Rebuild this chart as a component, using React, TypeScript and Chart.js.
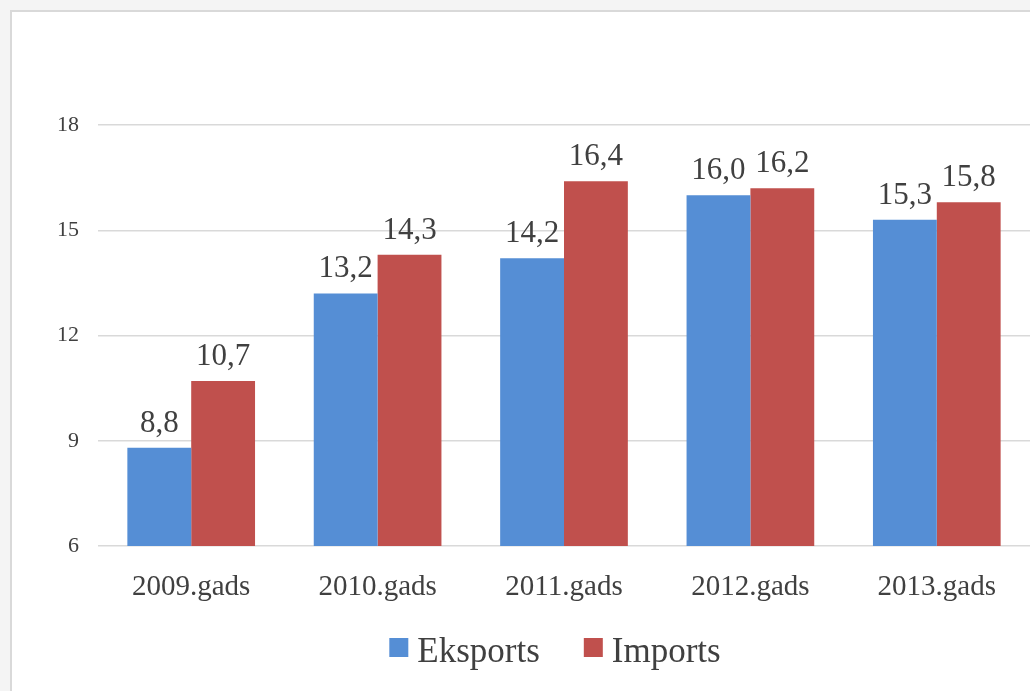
import React, { useEffect, useRef } from "react";
import { Chart, registerables } from "chart.js";

Chart.register(...registerables);

const categories = ["2009.gads", "2010.gads", "2011.gads", "2012.gads", "2013.gads"];
const eksports = [8.8, 13.2, 14.2, 16.0, 15.3];
const imports = [10.7, 14.3, 16.4, 16.2, 15.8];
const seriesNames = ["Eksports", "Imports"];
const seriesColors = ["#558ED5", "#C0504D"];
const yTicks = [6, 9, 12, 15, 18];

const FONT = "'Liberation Serif', 'Times New Roman', serif";
const TEXT = "#404040";

const dataLabels = {
  id: "dataLabels",
  afterDatasetsDraw(chart: any) {
    const ctx = chart.ctx;
    ctx.save();
    ctx.font = `31px ${FONT}`;
    ctx.fillStyle = TEXT;
    ctx.textAlign = "center";
    ctx.textBaseline = "alphabetic";
    chart.data.datasets.forEach((ds: any, i: number) => {
      const meta = chart.getDatasetMeta(i);
      meta.data.forEach((el: any, j: number) => {
        const v = ds.data[j] as number;
        ctx.fillText(v.toFixed(1).replace(".", ","), el.x, el.y - 16);
      });
    });
    ctx.restore();
  },
};

const bottomLegend = {
  id: "bottomLegend",
  afterDraw(chart: any) {
    const ctx = chart.ctx;
    const area = chart.chartArea;
    const box = 19;
    const gapText = 9;
    const gapItem = 44;
    ctx.save();
    ctx.font = `35px ${FONT}`;
    const items = chart.data.datasets.map((ds: any) => ({
      text: ds.label as string,
      color: ds.backgroundColor as string,
      w: ctx.measureText(ds.label).width,
    }));
    const total = items.reduce((a: number, it: any) => a + box + gapText + it.w, 0) + gapItem * (items.length - 1);
    const cx = (area.left + area.right) / 2 - 9;
    let x = cx - total / 2;
    const boxTop = area.bottom + 92;
    const baseline = area.bottom + 116;
    ctx.textAlign = "left";
    ctx.textBaseline = "alphabetic";
    items.forEach((it: any) => {
      ctx.fillStyle = it.color;
      ctx.fillRect(x, boxTop, box, box);
      ctx.fillStyle = TEXT;
      ctx.fillText(it.text, x + box + gapText, baseline);
      x += box + gapText + it.w + gapItem;
    });
    ctx.restore();
  },
};

export default function App() {
  const ref = useRef<HTMLCanvasElement>(null);
  useEffect(() => {
    if (!ref.current) return;
    const chart = new Chart(ref.current, {
      type: "bar",
      data: {
        labels: categories,
        datasets: [
          { label: seriesNames[0], data: eksports, backgroundColor: seriesColors[0], borderWidth: 0 },
          { label: seriesNames[1], data: imports, backgroundColor: seriesColors[1], borderWidth: 0 },
        ],
      },
      options: {
        responsive: false,
        animation: false,
        layout: { padding: { top: 125, right: 0, bottom: 70, left: 0 } },
        datasets: { bar: { categoryPercentage: 0.685, barPercentage: 1 } },
        scales: {
          x: {
            grid: { display: false },
            border: { display: false },
            ticks: { font: { family: FONT, size: 29 }, color: TEXT, padding: 16 },
            afterFit: (s: any) => { s.height = 75; },
          },
          y: {
            min: yTicks[0],
            max: yTicks[yTicks.length - 1],
            afterBuildTicks: (s: any) => { s.ticks = yTicks.map((v) => ({ value: v })); },
            grid: { color: "#d9d9d9", lineWidth: 1.5, drawTicks: false },
            border: { display: false },
            ticks: { font: { family: FONT, size: 22 }, color: TEXT, padding: 19 },
            afterFit: (s: any) => { s.width = 98; },
          },
        },
        plugins: {
          legend: { display: false },
          tooltip: { enabled: false },
        },
      },
      plugins: [dataLabels, bottomLegend],
    });
    return () => chart.destroy();
  }, []);
  return (
    <div style={{ position: "fixed", left: 0, top: 0, width: 1030, height: 691, background: "#f4f4f4", overflow: "hidden" }}>
      <div style={{ position: "absolute", left: 10, top: 10, width: 1100, height: 800, background: "#fff", border: "2px solid #d9d9d9" }} />
      <canvas ref={ref} width={1030} height={691} style={{ position: "absolute", left: 0, top: 0, width: 1030, height: 691 }} />
    </div>
  );
}
